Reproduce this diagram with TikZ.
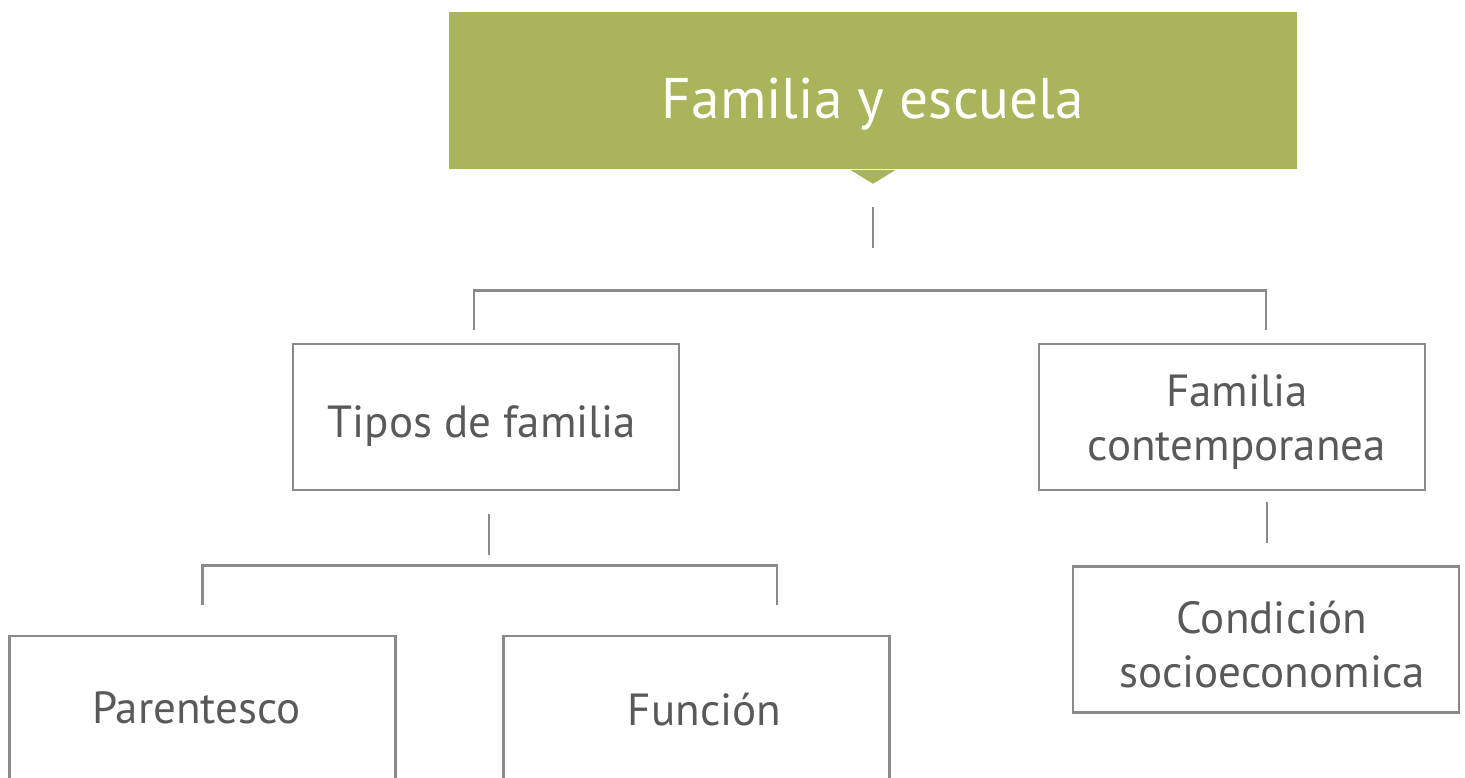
\documentclass[tikz,border=0pt]{standalone}
\usepackage{fontspec}
\setmainfont{PT Sans}

\definecolor{titlegreen}{HTML}{A9B45B}
\definecolor{textgray}{HTML}{58595B}
\definecolor{linegray}{HTML}{8A8A8C}

% text of a box, nudged by (2*dx, dy)
\newcommand\boxtext[3]{\raisebox{-#2}[\height][\depth]{\begin{tabular}{@{\hspace{#1}}c@{}}#3\end{tabular}}}

\tikzset{
	title/.style={fill=titlegreen, text=white, inner sep=0, minimum width=8.48cm, minimum height=1.57cm, font=\fontsize{16.3}{19}\selectfont},
	topic/.style={draw=linegray, line width=0.7pt, text=textgray, inner sep=0, minimum width=3.86cm, minimum height=1.46cm, font=\fontsize{12.8}{15.4}\selectfont},
	link/.style={draw=linegray, line width=0.75pt}
}

\begin{document}
\begin{tikzpicture}[x=0.01cm, y=-0.01cm]
	\clip (0,0) rectangle (1465,778);
	\node [title] (top) at (873,90.5) {\boxtext{0cm}{0.15cm}{Familia y escuela}};
	\fill [titlegreen] ([xshift=-0.23cm]top.south) -- ([yshift=-0.14cm]top.south) -- ([xshift=0.23cm]top.south) -- cycle;
	\node [topic] (tipos) at (486,417) {\boxtext{-0.08cm}{0.1cm}{Tipos de familia}};
	\node [topic] (contemp) at (1232,417) {\boxtext{0.1cm}{0.06cm}{Familia\\contemporanea}};
	\node [topic] (socio) at (1266,639.5) {\boxtext{0.12cm}{0.1cm}{Condición\\socioeconomica}};
	\node [topic] (parent) at (202.5,709) {\boxtext{-0.12cm}{0.04cm}{Parentesco}};
	\node [topic] (funcion) at (696.5,709) {\boxtext{0.16cm}{0.06cm}{Función}};
	% connectors
	\draw [link] ([yshift=-0.37cm]top.south) -- ([yshift=-0.78cm]top.south);
	\draw [link] ([xshift=-0.12cm, yshift=0.13cm]tipos.north) -- ++(0,-39) -| ([xshift=0.34cm, yshift=0.13cm]contemp.north);
	\draw [link] ([xshift=0.03cm, yshift=-0.23cm]tipos.south) -- ([xshift=0.03cm, yshift=-0.64cm]tipos.south);
	\draw [link] ([yshift=0.3cm]parent.north) -- ++(0,-39) -| ([xshift=0.805cm, yshift=0.3cm]funcion.north);
	\draw [link] ([xshift=0.35cm, yshift=-0.11cm]contemp.south) -- ([xshift=0.35cm, yshift=-0.52cm]contemp.south);
\end{tikzpicture}
\end{document}
